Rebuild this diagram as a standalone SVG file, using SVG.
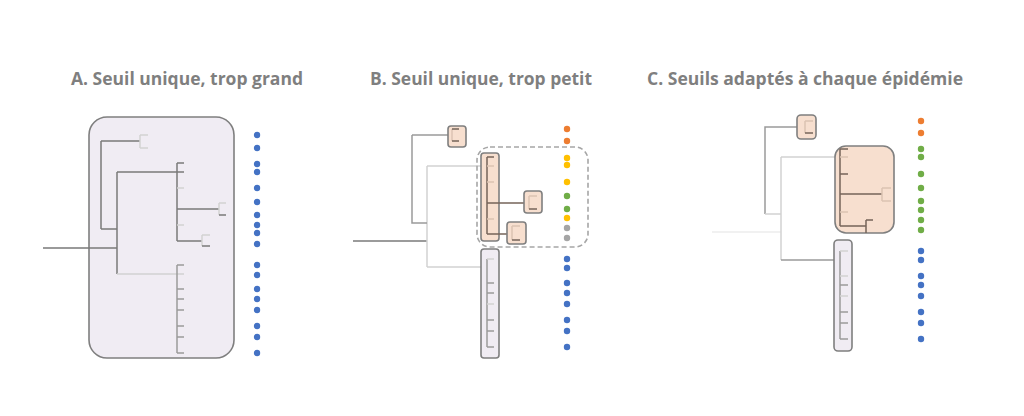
<svg xmlns="http://www.w3.org/2000/svg" width="1024" height="416" viewBox="0 0 1024 416">
<style>
.title{font-family:"Open Sans","Liberation Sans",sans-serif;font-weight:bold;font-size:17px;fill:#7f7f7f;text-anchor:middle}
.d{stroke:#7a7a7a;stroke-width:1.5;fill:none}
.m{stroke:#9a9a9a;stroke-width:1.5;fill:none}
.l{stroke:#d2d2d2;stroke-width:1.5;fill:none}
.vl{stroke:#ececec;stroke-width:1.5;fill:none}
.pd{stroke:#76645a;stroke-width:1.5;fill:none}
.pl{stroke:#dcc3b3;stroke-width:1.5;fill:none}
.peach{fill:#f7dfcf;stroke:#7f7f7f;stroke-width:1.6}
.lav{fill:#f0ecf3;stroke:#7f7f7f;stroke-width:1.6}
.dash{fill:none;stroke:#a6a6a6;stroke-width:1.6;stroke-dasharray:5 3}
.b{fill:#4472c4}.o{fill:#ed7d31}.y{fill:#ffc000}.g{fill:#70ad47}.gr{fill:#a5a5a5}
</style>
<rect width="1024" height="416" fill="#ffffff"/>

<text class="title" x="187" y="85" textLength="232" lengthAdjust="spacingAndGlyphs">A. Seuil unique, trop grand</text>
<text class="title" x="481" y="85" textLength="222" lengthAdjust="spacingAndGlyphs">B. Seuil unique, trop petit</text>
<text class="title" x="805" y="85" textLength="316" lengthAdjust="spacingAndGlyphs">C. Seuils adaptés à chaque épidémie</text>

<!-- Panel A -->
<g id="box-a"><rect class="lav" x="89" y="117" width="145" height="241" rx="18"/></g>
<g id="connectors-a">
<path class="d" d="M43,248H117M117,172V274M101,229H117M101,141V229M101,141H140"/>
<path class="l" d="M140,135V148M140,135H148M140,148H148"/>
<path class="d" d="M117,172H184M177,163V241M177,163H184M177,209H219M177,241H202"/>
<path class="l" d="M177,188H184M177,225H184M219,203V215M219,203H226M202,235V246M202,235H210"/>
<path class="d" d="M219,215H226M202,246H210"/>
<path class="l" d="M117,274H184"/>
<path class="m" d="M177,265V353M177,265H184M177,289H184M177,299H184M177,310H184M177,326H184M177,337H184M177,353H184"/>
</g>
<g id="dots-a">
<circle class="b" cx="257" cy="135" r="3.2"/><circle class="b" cx="257" cy="148" r="3.2"/>
<circle class="b" cx="257" cy="164" r="3.2"/><circle class="b" cx="257" cy="172" r="3.2"/>
<circle class="b" cx="257" cy="188" r="3.2"/><circle class="b" cx="257" cy="202" r="3.2"/>
<circle class="b" cx="257" cy="215" r="3.2"/><circle class="b" cx="257" cy="225" r="3.2"/>
<circle class="b" cx="257" cy="233" r="3.2"/><circle class="b" cx="257" cy="244" r="3.2"/>
<circle class="b" cx="257" cy="265" r="3.2"/><circle class="b" cx="257" cy="275" r="3.2"/>
<circle class="b" cx="257" cy="289" r="3.2"/><circle class="b" cx="257" cy="299" r="3.2"/>
<circle class="b" cx="257" cy="310" r="3.2"/><circle class="b" cx="257" cy="326" r="3.2"/>
<circle class="b" cx="257" cy="337" r="3.2"/><circle class="b" cx="257" cy="353" r="3.2"/>
</g>

<!-- Panel B -->
<g id="connectors-b">
<path class="d" d="M353,241H427"/>
<path class="l" d="M427,166V267M427,166H494M427,267H491"/>
<path class="m" d="M412,135V223H427M412,135H452"/>
</g>
<g id="dashed-b"><rect class="dash" x="477" y="147" width="111" height="100" rx="13"/></g>
<g id="box-b1"><rect class="peach" x="448" y="126" width="18" height="21" rx="3"/>
<path class="pl" d="M452,129V141"/><path class="pd" d="M452,129H459M452,141H459"/></g>
<g id="box-b2"><rect class="peach" x="481" y="153" width="18" height="88" rx="3"/>
<path class="pd" d="M487,157V234M487,157H494M487,203H525M487,234H512"/>
<path class="pl" d="M487,166H494M487,182H494M487,219H494"/></g>
<g id="box-b3"><rect class="peach" x="524" y="191" width="18" height="22" rx="3"/>
<path class="pl" d="M529,196V209M529,196H537"/><path class="pd" d="M529,209H537"/></g>
<g id="box-b4"><rect class="peach" x="507" y="222" width="19" height="22" rx="3"/>
<path class="pl" d="M512,226V240M512,226H520"/><path class="pd" d="M512,240H520"/></g>
<g id="box-b5"><rect class="lav" x="481" y="249" width="18" height="109" rx="3"/>
<path class="m" d="M487,259V347M487,283H494M487,293H494M487,320H494M487,331H494M487,347H494"/>
<path class="l" d="M487,259H494M487,304H494"/></g>
<g id="dots-b">
<circle class="o" cx="567" cy="129" r="3.2"/><circle class="o" cx="567" cy="141" r="3.2"/>
<circle class="y" cx="567" cy="158" r="3.2"/><circle class="y" cx="567" cy="165" r="3.2"/>
<circle class="y" cx="567" cy="182" r="3.2"/><circle class="g" cx="567" cy="196" r="3.2"/>
<circle class="g" cx="567" cy="209" r="3.2"/><circle class="y" cx="567" cy="218" r="3.2"/>
<circle class="gr" cx="567" cy="228" r="3.2"/><circle class="gr" cx="567" cy="238" r="3.2"/>
<circle class="b" cx="567" cy="259" r="3.2"/><circle class="b" cx="567" cy="268" r="3.2"/>
<circle class="b" cx="567" cy="283" r="3.2"/><circle class="b" cx="567" cy="293" r="3.2"/>
<circle class="b" cx="567" cy="304" r="3.2"/><circle class="b" cx="567" cy="320" r="3.2"/>
<circle class="b" cx="567" cy="331" r="3.2"/><circle class="b" cx="567" cy="347" r="3.2"/>
</g>

<!-- Panel C -->
<g id="connectors-c">
<path class="vl" d="M712,232H781"/>
<path class="m" d="M805,127H765V214"/>
<path class="l" d="M765,214H781M781,157V260M781,157H848"/>
<path class="m" d="M781,260H848"/>
</g>
<g id="box-c1"><rect class="peach" x="797" y="115" width="19" height="24" rx="4"/>
<path class="pl" d="M805,121V133M805,121H813"/><path class="pd" d="M805,133H813"/></g>
<g id="box-c2"><rect class="peach" x="835" y="146" width="59" height="87" rx="11"/>
<path class="pd" d="M840,149V226M840,149H848M840,174H848M840,194H882M840,226H866M866,220V233M866,220H873"/>
<path class="pl" d="M840,157H848M840,212H848M882,188V201M882,188H891M882,201H891"/></g>
<g id="box-c3"><rect class="lav" x="834" y="240" width="18" height="111" rx="4"/>
<path class="m" d="M840,251V339M840,285H848M840,312H848M840,323H848M840,339H848"/>
<path class="l" d="M840,251H848M840,276H848M840,296H848"/></g>
<g id="dots-c">
<circle class="o" cx="921" cy="121" r="3.2"/><circle class="o" cx="921" cy="133" r="3.2"/>
<circle class="g" cx="921" cy="149" r="3.2"/><circle class="g" cx="921" cy="157" r="3.2"/>
<circle class="g" cx="921" cy="174" r="3.2"/><circle class="g" cx="921" cy="188" r="3.2"/>
<circle class="g" cx="921" cy="201" r="3.2"/><circle class="g" cx="921" cy="210" r="3.2"/>
<circle class="g" cx="921" cy="220" r="3.2"/><circle class="g" cx="921" cy="230" r="3.2"/>
<circle class="b" cx="921" cy="251" r="3.2"/><circle class="b" cx="921" cy="260" r="3.2"/>
<circle class="b" cx="921" cy="276" r="3.2"/><circle class="b" cx="921" cy="285" r="3.2"/>
<circle class="b" cx="921" cy="296" r="3.2"/><circle class="b" cx="921" cy="312" r="3.2"/>
<circle class="b" cx="921" cy="323" r="3.2"/><circle class="b" cx="921" cy="339" r="3.2"/>
</g>
</svg>
